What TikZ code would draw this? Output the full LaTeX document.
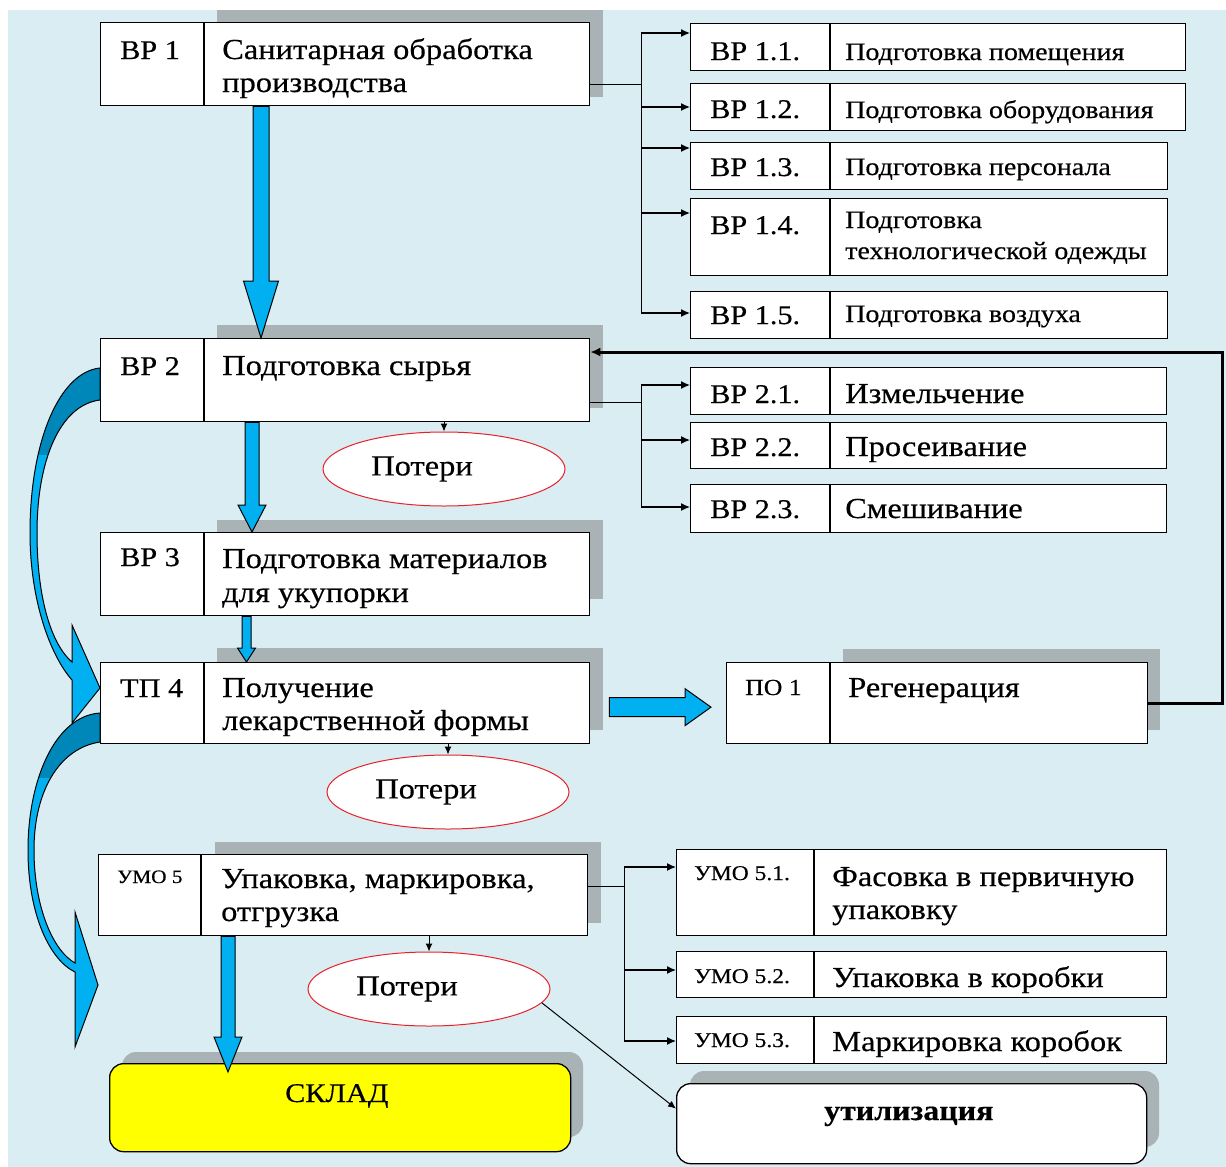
\documentclass[tikz,border=0pt]{standalone}
\usepackage{fontspec}
\setmainfont{Liberation Serif}[FakeStretch=1.12, FakeBold=0.4]
\usetikzlibrary{arrows.meta,calc,shapes.geometric}

\definecolor{bgblue}{HTML}{DAEDF3}
\definecolor{shadowgray}{HTML}{A9B3B5}
\definecolor{arrowblue}{HTML}{00B0F0}
\definecolor{darkarrow}{HTML}{0087B9}
\definecolor{lossred}{HTML}{E62129}
\definecolor{storeyellow}{HTML}{FFFF00}

\tikzset{
  box/.style={draw, line width=1.3pt, fill=white, anchor=north west, inner sep=0pt},
  divider/.style={line width=1.3pt},
  code/.style={anchor=base west, inner sep=0pt, font=\fontsize{27}{30}\selectfont},
  smallcode/.style={code, font=\fontsize{21}{24}\selectfont},
  txt/.style={anchor=base west, inner sep=0pt, font=\fontsize{29}{32}\selectfont},
  subtxt/.style={txt, font=\fontsize{25}{28}\selectfont},
  line/.style={line width=1.3pt},
  branch/.style={line width=1.3pt, -{Latex[length=9pt,width=8pt]}},
  feedback/.style={line width=3pt, -{Latex[length=10pt,width=9pt]}},
  lossarrow/.style={line width=1pt, -{Latex[length=8pt,width=7pt]}},
  loss/.style={ellipse, draw=lossred, line width=1pt, fill=white, inner sep=0pt,
    minimum width=242pt, minimum height=74pt, font=\fontsize{29}{32}\selectfont},
  blockarrow/.style={draw=black, line width=1pt, fill=arrowblue},
  endbox/.style={draw, line width=1.3pt, rounded corners=14pt, inner sep=0pt},
}

% block arrow pointing down: from, to, shaft half width, head half width, head length
\newcommand{\downblock}[5]{%
  \draw[blockarrow] let \p1=(#1), \p2=(#2) in
    (\x1-#3pt,\y1) -- (\x1-#3pt,\y2+#5pt) -- (\x1-#4pt,\y2+#5pt) -- (\x1,\y2)
    -- (\x1+#4pt,\y2+#5pt) -- (\x1+#3pt,\y2+#5pt) -- (\x1+#3pt,\y1) -- cycle;}

\begin{document}
\begin{tikzpicture}[x=1pt,y=-1pt]
\useasboundingbox (0,0) rectangle (1226,1167);
\fill[bgblue] (8,10) rectangle (1226,1167);

% shadows
\fill[shadowgray] (217,10) rectangle (603,97);
\fill[shadowgray] (217,325) rectangle (603,408);
\fill[shadowgray] (217,520) rectangle (603,599);
\fill[shadowgray] (217,648) rectangle (603,730);
\fill[shadowgray] (215,842) rectangle (601,923);
\fill[shadowgray] (843,649) rectangle (1160,730);
\fill[shadowgray, rounded corners=14pt] (122,1052) rectangle (583,1137);
\fill[shadowgray, rounded corners=14pt] (690,1071) rectangle (1159,1147);

% main column
\node[box, minimum width=489pt, minimum height=83pt] (bp1) at (100,22) {};
\node[box, minimum width=489pt, minimum height=83pt] (bp2) at (100,338) {};
\node[box, minimum width=489pt, minimum height=83pt] (bp3) at (100,532) {};
\node[box, minimum width=489pt, minimum height=81pt] (tp4) at (100,662) {};
\node[box, minimum width=489pt, minimum height=81pt] (umo5) at (98,854) {};
\foreach \b in {bp1,bp2,bp3,tp4}
  \draw[divider] ($(\b.north west)+(104,0)$) -- ($(\b.south west)+(104,0)$);
\draw[divider] ($(umo5.north west)+(103,0)$) -- ($(umo5.south west)+(103,0)$);

\node[code] (bp1c) at (120,59) {ВР 1};
\node[txt] (bp1a) at (222,59) {Санитарная обработка};
\node[txt] (bp1b) at (222,92) {производства};
\node[code] (bp2c) at (120,375) {ВР 2};
\node[txt] (bp2a) at (222,375) {Подготовка сырья};
\node[code] (bp3c) at (120,566) {ВР 3};
\node[txt] (bp3a) at (222,568) {Подготовка материалов};
\node[txt] (bp3b) at (222,602) {для укупорки};
\node[code] (tp4c) at (120,697) {ТП 4};
\node[txt] (tp4a) at (222,697) {Получение};
\node[txt] (tp4b) at (222,730) {лекарственной формы};
\node[smallcode, font=\fontsize{19}{22}\selectfont] (umo5c) at (117,883) {УМО 5};
\node[txt] (umo5a) at (221,888) {Упаковка, маркировка,};
\node[txt] (umo5b) at (221,921) {отгрузка};

% stages of ВР 1
\node[box, minimum width=495pt, minimum height=47pt] (r11) at (690,23) {};
\node[box, minimum width=495pt, minimum height=47pt] (r12) at (690,83) {};
\node[box, minimum width=477pt, minimum height=47pt] (r13) at (690,142) {};
\node[box, minimum width=477pt, minimum height=77pt] (r14) at (690,198) {};
\node[box, minimum width=477pt, minimum height=47pt] (r15) at (690,291) {};
% stages of ВР 2
\node[box, minimum width=476pt, minimum height=47pt] (r21) at (690,367) {};
\node[box, minimum width=476pt, minimum height=46pt] (r22) at (690,422) {};
\node[box, minimum width=476pt, minimum height=48pt] (r23) at (690,484) {};
\foreach \b in {r11,r12,r13,r14,r15,r21,r22,r23}
  \draw[divider] ($(\b.north west)+(140,0)$) -- ($(\b.south west)+(140,0)$);

\node[code] (r11c) at (710,60) {ВР 1.1.};
\node[subtxt] (r11t) at (845,60) {Подготовка помещения};
\node[code] (r12c) at (710,118) {ВР 1.2.};
\node[subtxt] (r12t) at (845,118) {Подготовка оборудования};
\node[code] (r13c) at (710,176) {ВР 1.3.};
\node[subtxt] (r13t) at (845,175) {Подготовка персонала};
\node[code] (r14c) at (710,234) {ВР 1.4.};
\node[subtxt] (r14a) at (845,228) {Подготовка};
\node[subtxt] (r14b) at (845,259) {технологической одежды};
\node[code] (r15c) at (710,324) {ВР 1.5.};
\node[subtxt] (r15t) at (845,322) {Подготовка воздуха};
\node[code] (r21c) at (710,403) {ВР 2.1.};
\node[txt] (r21t) at (845,403) {Измельчение};
\node[code] (r22c) at (710,456) {ВР 2.2.};
\node[txt] (r22t) at (845,456) {Просеивание};
\node[code] (r23c) at (710,518) {ВР 2.3.};
\node[txt] (r23t) at (845,518) {Смешивание};

% regeneration
\node[box, minimum width=421pt, minimum height=81pt] (po1) at (726,662) {};
\draw[divider] ($(po1.north west)+(104,0)$) -- ($(po1.south west)+(104,0)$);
\node[smallcode, font=\fontsize{23}{26}\selectfont] (po1c) at (745,695) {ПО 1};
\node[txt] (po1t) at (848,697) {Регенерация};

% stages of УМО 5
\node[box, minimum width=490pt, minimum height=86pt] (u51) at (676,849) {};
\node[box, minimum width=490pt, minimum height=46pt] (u52) at (676,951) {};
\node[box, minimum width=490pt, minimum height=47pt] (u53) at (676,1016) {};
\foreach \b in {u51,u52,u53}
  \draw[divider] ($(\b.north west)+(138,0)$) -- ($(\b.south west)+(138,0)$);
\node[smallcode] (u51c) at (694,880) {УМО 5.1.};
\node[txt] (u51a) at (832,886) {Фасовка в первичную};
\node[txt] (u51b) at (832,919) {упаковку};
\node[smallcode] (u52c) at (694,983) {УМО 5.2.};
\node[txt] (u52t) at (832,987) {Упаковка в коробки};
\node[smallcode] (u53c) at (694,1047) {УМО 5.3.};
\node[txt] (u53t) at (832,1051) {Маркировка коробок};

% end points
\node[endbox, fill=storeyellow, anchor=north west, minimum width=461pt, minimum height=88pt] (skl) at (109,1063) {};
\node[txt, font=\fontsize{27}{30}\selectfont] (sklt) at (285,1102) {СКЛАД};
\node[endbox, fill=white, anchor=north west, minimum width=470pt, minimum height=80pt] (util) at (676,1083) {};
\node[txt, font=\fontsize{28.5}{31}\selectfont\bfseries] (utilt) at (824,1120) {утилизация};

% losses
\node[loss] (loss1) at (444,469) {Потери\hspace*{44pt}};
\node[loss] (loss2) at (448,792) {Потери\hspace*{44pt}};
\node[loss] (loss3) at (429,989) {Потери\hspace*{44pt}};
\draw[lossarrow] (bp2.south -| loss1.north) -- (loss1.north);
\draw[lossarrow] (tp4.south -| loss2.north) -- (loss2.north);
\draw[lossarrow] (umo5.south -| loss3.north) -- (loss3.north);
\draw[lossarrow] (loss3.-7) -- ($(util.west)+(0,-15)$);

% branches of ВР 1
\coordinate (b1) at ($(bp1.south east)+(51,-22)$);
\draw[line] ($(bp1.south east)+(0,-22)$) -- (b1);
\foreach \r/\dy in {r11/10, r12/24, r13/6, r14/15, r15/22} {
  \coordinate (\r-in) at ($(\r.north west)+(0,\dy)$);
  \draw[branch] (b1 |- \r-in) -- (\r-in);
}
\draw[line] (b1 |- r11-in) -- (b1 |- r15-in);

% branches of ВР 2
\coordinate (b2) at ($(bp2.south east)+(51,-20)$);
\draw[line] ($(bp2.south east)+(0,-20)$) -- (b2);
\foreach \r/\dy in {r21/18, r22/18, r23/23} {
  \coordinate (\r-in) at ($(\r.north west)+(0,\dy)$);
  \draw[branch] (b2 |- \r-in) -- (\r-in);
}
\draw[line] (b2 |- r21-in) -- (b2 |- r23-in);

% branches of УМО 5
\coordinate (b5) at ($(umo5.south east)+(36,-50)$);
\draw[line] ($(umo5.south east)+(0,-50)$) -- (b5);
\foreach \r/\dy in {u51/18, u52/19, u53/25} {
  \coordinate (\r-in) at ($(\r.north west)+(0,\dy)$);
  \draw[branch] (b5 |- \r-in) -- (\r-in);
}
\draw[line] (b5 |- u51-in) -- (b5 |- u53-in);

% regeneration back to ВР 2
\draw[feedback] (po1.east) -- ++(74,0) |- ($(bp2.north east)+(0,14)$);

% flow arrows
\downblock{$(bp1.south west)+(161,0)$}{$(bp2.north west)+(160,0)$}{8}{17.5}{57}
\downblock{$(bp2.south west)+(152,0)$}{$(bp3.north west)+(152,0)$}{7}{14}{27}
\downblock{$(bp3.south west)+(146.5,0)$}{$(tp4.north west)+(146.5,0)$}{4.5}{9}{14}
\downblock{$(umo5.south west)+(130,0)$}{$(skl.north west)+(119,9)$}{7}{14}{35}
\draw[blockarrow] let \p1=($(tp4.east)+(19,4)$), \p2=($(po1.west)+(-15,4)$) in
  (\x1,\y1-9.5pt) -- (\x2-26pt,\y1-9.5pt) -- (\x2-26pt,\y1-18.5pt) -- (\x2,\y1)
  -- (\x2-26pt,\y1+18.5pt) -- (\x2-26pt,\y1+9.5pt) -- (\x1,\y1+9.5pt) -- cycle;

% curved arrows on the left
\draw[blockarrow, path picture={\fill[darkarrow] (0,360) rectangle (110,455);}]
  (100,368) .. controls (60,372) and (30,440) .. (30,533)
  .. controls (30,600) and (50,655) .. (72,680)
  -- (72,723) -- (100,688) -- (72,625) -- (72,662)
  .. controls (52,645) and (37,600) .. (37,533)
  .. controls (37,460) and (60,405) .. (100,400) -- cycle;
\draw[blockarrow, path picture={\fill[darkarrow] (0,705) rectangle (110,778);}]
  (100,713) .. controls (55,716) and (28,780) .. (28,850)
  .. controls (28,915) and (50,960) .. (75,972)
  -- (75,1047) -- (98,985) -- (75,912) -- (75,963)
  .. controls (52,950) and (34,905) .. (34,850)
  .. controls (34,790) and (60,748) .. (100,742) -- cycle;
\end{tikzpicture}
\end{document}
